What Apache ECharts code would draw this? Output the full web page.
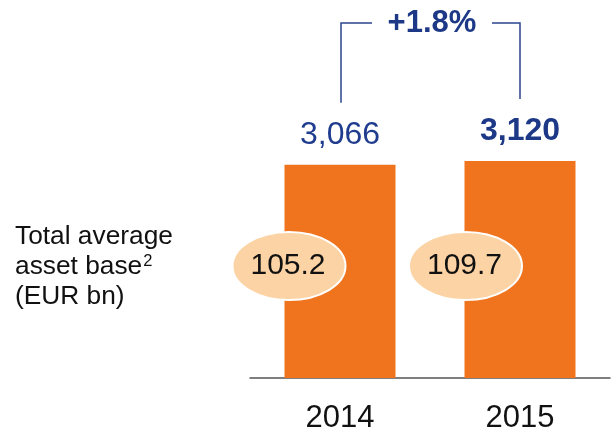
<!DOCTYPE html>
<html>
<head>
<meta charset="utf-8">
<script src="https://cdn.jsdelivr.net/npm/echarts@6/dist/echarts.min.js"></script>
<style>
html,body{margin:0;padding:0;background:#fff;}
#chart{width:616px;height:434px;}
</style>
</head>
<body>
<div id="chart"></div>
<script>
// ---- data ----
const categories = ['2014', '2015'];
const headcount = [3066, 3120];
const assetBase = [105.2, 109.7];
const growthLabel = '+1.8%';
const rowLabel = 'Total average\nasset base{sup|2}\n(EUR bn)';

const FONT = '"Liberation Sans", Arial, Helvetica, sans-serif';
const BLUE = '#1f3c8f';
const ORANGE = '#f0731e';

const chart = echarts.init(document.getElementById('chart'), null, {renderer: 'canvas'});

const barData = headcount.map((v, i) => ({
  value: v,
  label: i === headcount.length - 1 ? {fontWeight: 'bold', color: '#1d3887'} : {}
}));

const option = {
  animation: false,
  backgroundColor: '#fff',
  grid: {left: 250, right: 6, top: 161, bottom: 55},
  xAxis: {
    type: 'category',
    data: categories,
    axisLine: {lineStyle: {color: '#555', width: 1.5}},
    axisTick: {show: false},
    axisLabel: {fontSize: 31, color: '#111', fontFamily: FONT, margin: 25}
  },
  yAxis: {type: 'value', min: 0, max: 3120, show: false, splitLine: {show: false}},
  graphic: [{
    type: 'text',
    left: 15,
    top: 222,
    style: {
      text: rowLabel,
      fontSize: 26.3,
      fontFamily: FONT,
      fill: '#111',
      lineHeight: 30,
      rich: {
        sup: {fontSize: 16.5, fontFamily: FONT, fill: '#111', color: '#111', verticalAlign: 'top', lineHeight: 30, padding: [1, 0, 0, 1]}
      }
    }
  }],
  series: [
    {
      type: 'bar',
      data: barData,
      barWidth: 111,
      itemStyle: {color: ORANGE},
      label: {
        show: true,
        position: 'top',
        distance: 14,
        fontSize: 32,
        fontFamily: FONT,
        color: BLUE,
        formatter: p => p.value.toLocaleString('en-US')
      },
      z: 2
    },
    {
      type: 'custom',
      data: assetBase.map((v, i) => [i, v]),
      z: 5,
      renderItem: function (params, api) {
        const idx = api.value(0);
        const base = api.coord([idx, 0]);
        const bw = 111;
        const cx = base[0] - bw / 2 + (idx === 0 ? 4.5 : 1);
        const cy = base[1] - 112;
        return {
          type: 'group',
          children: [
            {type: 'ellipse', shape: {cx: cx, cy: cy, rx: 56.5, ry: 34},
             style: {fill: '#fcd3a4', stroke: '#fff', lineWidth: 2}},
            {type: 'text', style: {text: api.value(1).toFixed(1), x: cx - 1, y: cy, align: 'center', verticalAlign: 'middle',
              font: '30px ' + FONT, fill: '#111'}}
          ]
        };
      }
    },
    {
      type: 'custom',
      data: [[0, headcount[0], 1, headcount[1]]],
      z: 6,
      renderItem: function (params, api) {
        const p0 = api.coord([api.value(0), api.value(1)]);
        const p1 = api.coord([api.value(2), api.value(3)]);
        const topY = 23;
        const mid = (p0[0] + p1[0]) / 2;
        const ls = {stroke: '#2b4590', lineWidth: 1.5, fill: null};
        return {
          type: 'group',
          children: [
            {type: 'polyline', shape: {points: [[p0[0] + 1, p0[1] - 62], [p0[0] + 1, topY], [mid - 58, topY]]}, style: ls},
            {type: 'polyline', shape: {points: [[mid + 62, topY], [p1[0], topY], [p1[0], p1[1] - 62]]}, style: ls},
            {type: 'text', style: {text: growthLabel, x: mid + 2, y: topY, align: 'center', verticalAlign: 'middle',
              font: 'bold 31px ' + FONT, fill: '#1d3887'}}
          ]
        };
      }
    }
  ]
};
chart.setOption(option);
</script>
</body>
</html>
